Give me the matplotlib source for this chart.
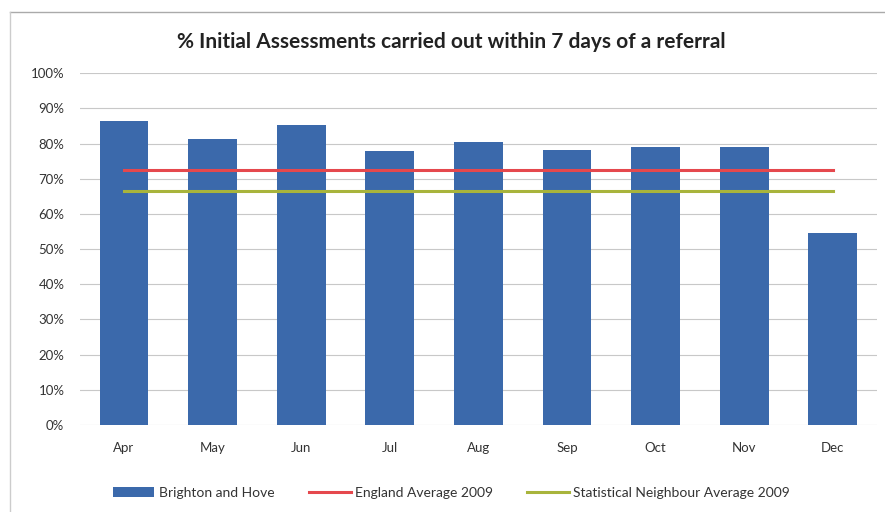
import matplotlib.pyplot as plt
from matplotlib.ticker import PercentFormatter

months = ['Apr', 'May', 'Jun', 'Jul', 'Aug', 'Sep', 'Oct', 'Nov', 'Dec']
brighton = [86.4, 81.3, 85.2, 77.8, 80.4, 78.1, 79.0, 79.0, 54.5]
england = [72.6] * 9
neighbour = [66.4] * 9

plt.rcParams['font.family'] = ['Lato', 'DejaVu Sans']

fig = plt.figure(figsize=(8.85, 5.12), dpi=100)
ax = fig.add_axes([0.09, 0.170, 0.901, 0.687])

x = range(len(months))
bars = ax.bar(x, brighton, width=0.55, color='#3b69ab', label='Brighton and Hove', zorder=2)
l1, = ax.plot(x, england, color='#e5484d', lw=2.2, label='England Average 2009', zorder=3)
l2, = ax.plot(x, neighbour, color='#a8b43c', lw=2.2, label='Statistical Neighbour Average 2009', zorder=3)

ax.set_xlim(-0.5, 8.5)
ax.set_ylim(0, 100)
ax.set_yticks(range(0, 101, 10))
ax.yaxis.set_major_formatter(PercentFormatter(decimals=0))
ax.set_xticks(list(x))
ax.set_xticklabels(months)
ax.tick_params(length=0, labelsize=9.5, colors='#333333')
ax.tick_params(axis='x', pad=12)
ax.tick_params(axis='y', pad=11)
ax.grid(axis='y', color='#c8c8c8', lw=0.8, zorder=0)
for s in ax.spines.values():
    s.set_visible(False)

fig.text(0.51, 0.918, '% Initial Assessments carried out within 7 days of a referral',
         ha='center', va='center', fontsize=15, fontweight='bold', color='#222222')

leg = fig.legend([bars, l1, l2], [bars.get_label(), l1.get_label(), l2.get_label()],
                 loc='center', bbox_to_anchor=(0.51, 0.038), ncol=3, frameon=False,
                 fontsize=10, handlelength=3, columnspacing=2.5, handletextpad=0.3)
for t in leg.get_texts():
    t.set_color('#333333')

# chart border
fig.add_artist(plt.Line2D([0.011, 1.0], [0.977, 0.977], color='#aaaaaa', lw=1))
fig.add_artist(plt.Line2D([0.011, 0.011], [0.0, 0.977], color='#cccccc', lw=1))

plt.savefig('out.png')
